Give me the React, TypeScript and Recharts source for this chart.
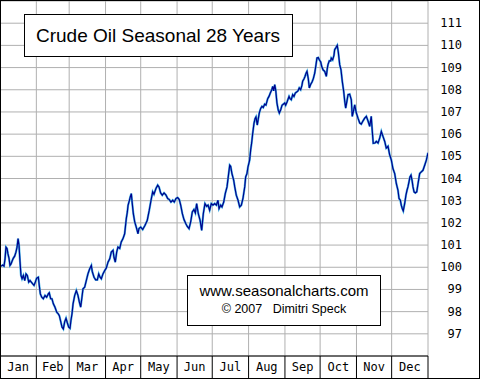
import React from 'react';
import { LineChart, Line, XAxis, YAxis, CartesianGrid, ReferenceLine } from 'recharts';

const months = ['Jan', 'Feb', 'Mar', 'Apr', 'May', 'Jun', 'Jul', 'Aug', 'Sep', 'Oct', 'Nov', 'Dec'];
const monthStarts = [0, 31, 59, 90, 120, 151, 181, 212, 243, 273, 304, 334, 365];
const priceTicks = [97, 98, 99, 100, 101, 102, 103, 104, 105, 106, 107, 108, 109, 110, 111];
const titleText = 'Crude Oil Seasonal 28 Years';
const siteText = 'www.seasonalcharts.com';
const creditText = '\u00A9 2007   Dimitri Speck';

// [day of year, seasonal index]
const janFeb: [number, number][] = [
  [0.9, 100.05], [2.3, 100.1], [3.4, 100.05], [4.3, 100.38], [5.1, 100.91], [6.0, 100.85], [6.8, 100.6], [7.7, 100.4], [8.5, 100.08], [9.4, 100.15],
  [10.5, 100.3], [11.3, 100.4], [12.5, 100.5], [13.6, 100.68], [14.5, 100.9], [15.4, 101.29], [16.2, 101.0], [17.1, 100.23], [17.9, 99.63], [18.8, 99.48],
  [19.9, 99.63], [21.1, 99.4], [22.2, 99.7], [23.3, 99.63], [24.5, 99.33], [25.6, 99.4], [26.7, 99.33], [27.9, 99.25], [29.0, 99.18], [30.1, 99.33],
  [31.3, 99.51], [32.7, 99.55], [33.5, 99.18], [34.4, 98.8], [35.6, 98.65], [36.9, 98.58], [38.4, 98.73], [39.8, 98.65], [41.2, 98.8], [42.0, 98.85],
  [43.2, 98.58], [44.3, 98.58], [45.5, 98.35], [46.9, 98.2], [48.4, 97.97], [49.7, 97.9], [50.6, 97.82], [51.8, 97.55], [52.9, 97.3], [54.0, 97.22],
  [55.2, 97.55], [56.3, 97.7], [57.4, 97.5], [58.6, 97.3], [59.7, 97.25], [60.5, 97.6], [61.4, 97.9],
];
const marApr: [number, number][] = [
  [62.3, 98.35], [63.7, 98.73], [65.1, 98.95], [66.5, 98.73], [67.6, 98.45], [68.8, 98.2], [69.9, 98.65], [70.8, 99.03], [72.2, 99.1], [73.6, 99.4],
  [75.0, 99.7], [76.5, 99.93], [77.9, 100.08], [78.7, 99.8], [80.2, 99.55], [81.6, 99.43], [83.0, 99.43], [84.2, 99.7], [85.3, 99.55], [86.4, 99.48],
  [87.8, 99.7], [89.3, 99.85], [90.7, 99.97], [92.1, 100.23], [93.6, 100.38], [94.9, 100.68], [96.4, 100.76], [97.2, 100.45], [98.3, 100.23], [99.5, 100.68],
  [100.6, 100.91], [102.1, 100.85], [103.4, 101.14], [104.9, 101.29], [106.3, 101.51], [107.7, 102.19], [108.6, 102.49], [109.2, 102.79], [110.3, 103.0], [111.1, 103.17],
  [112.0, 103.32], [112.8, 102.87], [113.7, 102.42], [114.9, 102.04], [116.2, 101.81], [117.7, 101.51], [118.5, 101.74],
];
const mayJun: [number, number][] = [
  [120.0, 101.81], [121.7, 101.7], [123.7, 101.89], [125.6, 102.12], [127.3, 102.57], [128.8, 103.02], [130.2, 103.4], [131.3, 103.29], [133.0, 103.55], [134.5, 103.7],
  [135.6, 103.62], [137.0, 103.35], [138.4, 103.25], [139.9, 103.35], [141.6, 103.25], [143.0, 103.1], [144.4, 103.05], [145.8, 102.94], [147.3, 103.02], [148.6, 102.94],
  [150.1, 103.1], [151.5, 103.14], [152.9, 103.05], [154.1, 102.8], [155.5, 102.42], [156.9, 102.15], [158.4, 101.97], [159.7, 101.84], [161.2, 101.74], [162.6, 102.04],
  [164.0, 102.49], [165.4, 102.6], [166.6, 102.45], [167.7, 102.87], [169.1, 102.42], [170.6, 102.12], [172.0, 101.66], [173.4, 102.42], [174.8, 102.87], [176.3, 102.75],
];
const julAug: [number, number][] = [
  [177.4, 102.8], [178.8, 102.57], [180.2, 102.87], [181.6, 102.8], [183.1, 102.87], [184.5, 102.8], [185.9, 103.02], [186.8, 102.64], [188.2, 102.8], [189.3, 102.72],
  [190.8, 102.94], [192.1, 103.32], [193.6, 103.62], [195.0, 104.22], [195.9, 104.6], [196.7, 104.55], [197.8, 104.22], [199.3, 103.92], [200.2, 103.62], [201.5, 103.25],
  [203.0, 103.02], [204.4, 102.72], [205.8, 102.8], [207.2, 103.1], [208.7, 103.62], [209.5, 104.07], [210.6, 104.22], [211.5, 104.52], [212.9, 104.83], [213.8, 105.3],
  [214.6, 105.6], [215.5, 106.03], [216.6, 106.48], [217.5, 106.7], [218.3, 106.78], [219.4, 106.41], [220.3, 106.7], [221.1, 106.95], [222.3, 107.16], [223.4, 107.25],
  [224.5, 107.2], [225.7, 107.35], [226.8, 107.31], [228.3, 107.6], [229.4, 107.7], [230.5, 107.85], [231.7, 107.99], [232.6, 108.15], [233.4, 107.95], [234.3, 108.23],
  [235.1, 108.0], [236.2, 107.4], [237.3, 107.08], [238.2, 106.95], [239.4, 107.1], [240.5, 107.3], [241.6, 107.35], [242.8, 107.4],
];
const sepOct: [number, number][] = [
  [243.6, 107.3], [244.8, 107.45], [246.5, 107.7], [247.3, 107.6], [248.4, 107.55], [249.6, 107.78], [250.7, 107.7], [251.8, 107.85], [253.0, 107.9], [254.1, 107.95],
  [255.2, 108.08], [256.4, 108.0], [257.5, 108.2], [258.1, 108.38], [259.3, 108.5], [260.1, 108.6], [261.0, 108.75], [261.8, 108.83], [262.9, 108.5], [263.8, 108.08],
  [265.0, 108.25], [266.1, 108.35], [267.2, 108.5], [268.4, 108.75], [269.5, 109.13], [270.3, 109.43], [271.4, 109.45], [272.3, 109.35], [273.5, 109.25], [274.3, 109.06],
  [275.5, 108.9], [276.9, 108.83], [278.3, 108.6], [279.1, 108.95], [279.7, 109.13], [280.8, 109.3], [282.0, 109.3], [282.5, 109.43], [283.7, 109.35], [284.8, 109.55],
  [285.4, 109.81], [286.5, 109.9], [287.6, 110.0], [288.5, 109.7], [289.7, 109.13], [290.8, 108.9], [291.9, 108.38], [293.1, 107.93], [294.0, 107.48], [294.8, 107.17],
  [295.9, 107.5], [296.8, 107.78], [298.2, 107.8], [299.6, 107.55], [300.4, 106.8], [301.3, 107.0], [302.5, 107.32],
];
const novDec: [number, number][] = [
  [303.9, 106.95], [305.3, 106.72], [306.8, 106.5], [308.1, 106.45], [309.6, 106.6], [311.0, 106.72], [312.4, 106.8], [313.8, 106.6], [315.3, 106.35], [316.6, 106.8],
  [317.5, 106.12], [318.3, 105.59], [319.8, 105.6], [320.9, 105.67], [322.4, 105.6], [323.8, 105.82], [325.2, 106.12], [326.6, 105.9], [328.1, 105.67], [329.4, 105.37],
  [330.9, 105.45], [332.3, 105.07], [333.7, 104.84], [335.1, 104.45], [336.6, 104.22], [338.0, 103.77], [339.4, 103.47], [340.3, 103.1], [341.4, 103.02], [342.2, 102.8],
  [343.1, 102.64], [343.9, 102.54], [345.1, 102.87], [346.2, 103.25], [347.1, 103.47], [347.9, 103.62], [348.8, 103.85], [349.6, 104.07], [350.5, 104.15], [351.4, 103.92],
  [352.2, 103.62], [353.1, 103.4], [354.2, 103.35], [355.4, 103.4], [356.5, 103.77], [357.9, 104.22], [359.3, 104.3], [360.7, 104.37], [362.2, 104.6], [363.6, 104.83],
  [365.0, 105.16],
];

const data = [...janFeb, ...marApr, ...mayJun, ...julAug, ...sepOct, ...novDec].map(([day, value]) => ({ day, value }));
const monthMids = months.map((_, i) => (monthStarts[i] + monthStarts[i + 1]) / 2);
const xTicks = [...monthStarts, ...monthMids].sort((a, b) => a - b);

const MONO = '"DejaVu Sans Mono", monospace';
const SANS = '"Liberation Sans", Arial, sans-serif';

const MonthTick = (props: any) => {
  const { x, y, payload } = props;
  const v = payload.value;
  if (monthStarts.includes(v)) {
    return <line x1={x} y1={y} x2={x} y2={y + 22} stroke="#000" strokeWidth={1} />;
  }
  const idx = monthMids.indexOf(v);
  return (
    <text x={x} y={y + 11} textAnchor="middle" dominantBaseline="central" fontFamily={MONO} fontSize={12} fill="#000">
      {months[idx]}
    </text>
  );
};

const PriceTick = (props: any) => {
  const { x, y, payload } = props;
  return (
    <text x={x + 34} y={y} textAnchor="end" dominantBaseline="central" fontFamily={MONO} fontSize={12} fill="#000">
      {payload.value}
    </text>
  );
};

export default function App() {
  return (
    <div style={{ position: 'absolute', left: 0, top: 0, width: 480, height: 380, background: '#fff' }}>
      <LineChart width={480} height={380} data={data} margin={{ top: 1, right: 0, bottom: 0, left: 0 }}>
        <CartesianGrid stroke="#b0b0b0" vertical={false} />
        {monthStarts.map((d) => (
          <ReferenceLine key={d} x={d} stroke="#b0b0b0" strokeWidth={1} />
        ))}
        <XAxis
          dataKey="day"
          type="number"
          domain={[0, 365]}
          allowDataOverflow
          ticks={xTicks}
          interval={0}
          tick={MonthTick}
          tickLine={false}
          tickSize={0}
          tickMargin={0}
          stroke="#000"
          height={24}
        />
        <YAxis
          orientation="right"
          type="number"
          domain={[96, 112]}
          allowDataOverflow
          ticks={priceTicks}
          interval={0}
          tick={PriceTick}
          tickLine={false}
          axisLine={false}
          tickSize={0}
          tickMargin={0}
          width={52}
        />
        <Line dataKey="value" stroke="#4ab8e8" strokeWidth={2.2} dot={false} isAnimationActive={false} />
        <Line dataKey="value" stroke="#00008c" strokeWidth={1.2} dot={false} isAnimationActive={false} />
      </LineChart>
      <div
        style={{
          position: 'absolute', left: 0, top: 0, width: 480, height: 379, boxSizing: 'border-box',
          border: '1px solid #000', pointerEvents: 'none',
        }}
      />
      <div
        style={{
          position: 'absolute', left: 24, top: 14, width: 269, height: 43, boxSizing: 'border-box',
          border: '1px solid #000', background: '#fff', fontFamily: SANS, fontSize: 19, lineHeight: '41px',
          paddingLeft: 11, whiteSpace: 'pre', color: '#000',
        }}
      >
        {titleText}
      </div>
      <div
        style={{
          position: 'absolute', left: 187, top: 275, width: 194, height: 51, boxSizing: 'border-box',
          border: '1px solid #000', background: '#fff', color: '#000', fontFamily: SANS,
        }}
      >
        <div style={{ position: 'absolute', left: 0, right: 0, top: 6, textAlign: 'center', fontSize: 15, lineHeight: '18px', whiteSpace: 'pre' }}>
          {siteText}
        </div>
        <div style={{ position: 'absolute', left: 0, right: 0, top: 25, textAlign: 'center', fontSize: 12.5, lineHeight: '16px', whiteSpace: 'pre' }}>
          {creditText}
        </div>
      </div>
    </div>
  );
}
